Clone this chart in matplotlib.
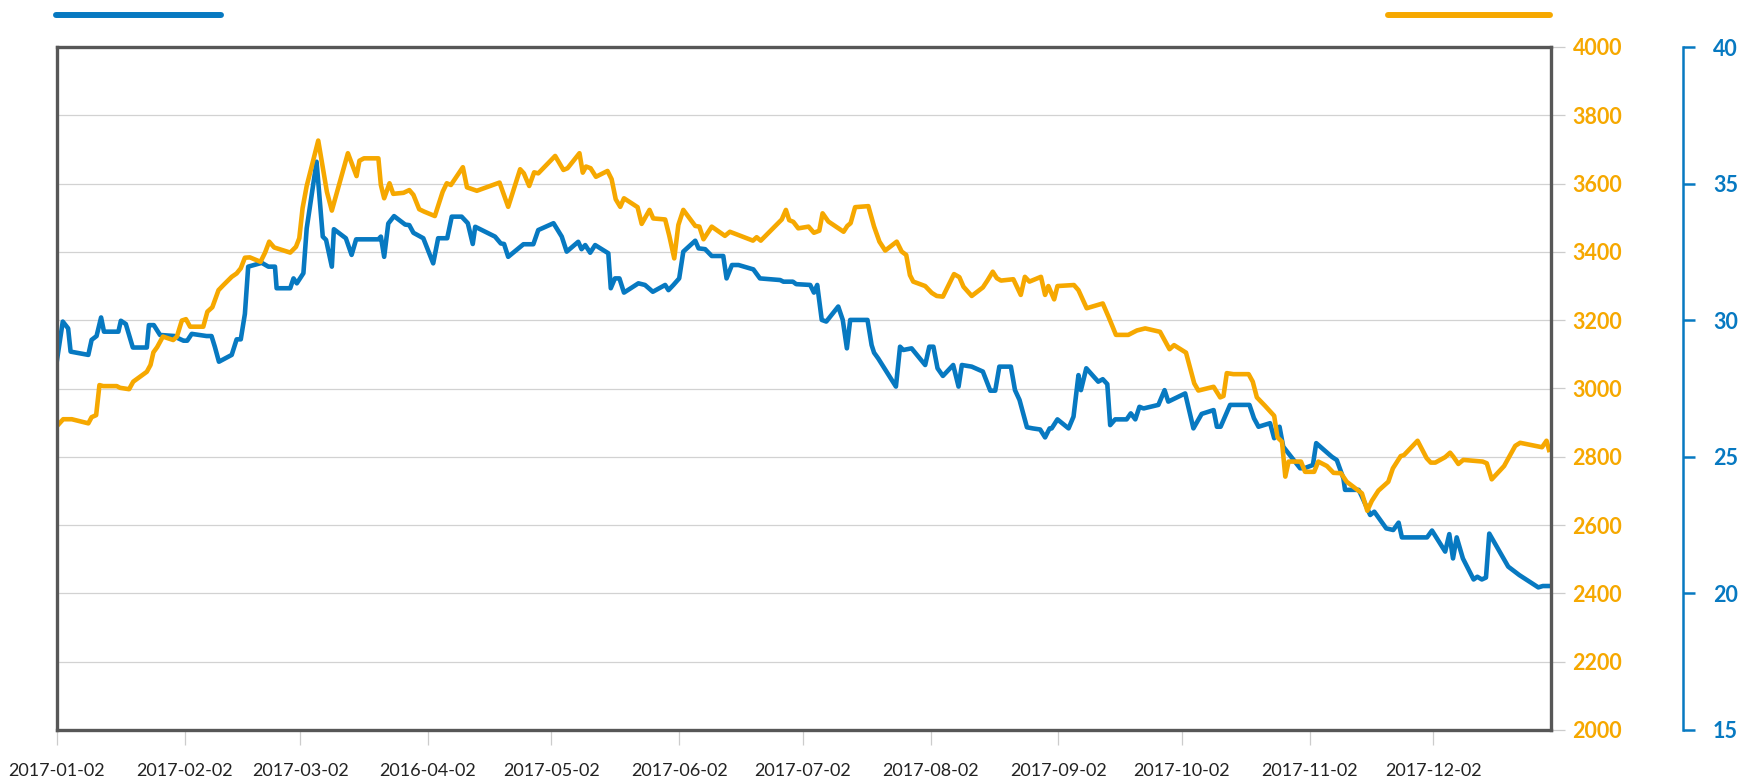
import matplotlib
matplotlib.use("Agg")
import matplotlib.pyplot as plt
from matplotlib.lines import Line2D
from matplotlib.ticker import MultipleLocator
import pandas as pd

# x positions are days counted from 2017-01-02
blue_day = [0, 1.4, 2.7, 3.3, 7.6, 8.4, 9.6, 10.7, 11.4, 14.9,
            15.5, 16.7, 18.4, 21.8, 22.3, 23.5, 25.0, 28.6, 29.4, 30.7,
            31.6, 32.7, 36.3, 37.5, 38.3, 39.3, 42.4, 43.6, 44.6, 45.6,
            46.4, 49.7, 51.3, 52.9, 53.3, 56.6, 57.4, 58.2, 59.8, 60.6,
            63.0, 64.5, 65.3, 66.7, 67.2, 70.1, 71.5, 72.6, 78.0, 78.6,
            79.4, 80.4, 81.8, 84.5, 85.5, 86.5, 88.5, 88.9, 91.3, 92.5,
            94.7, 95.8, 98.2, 99.7, 100.9, 101.5, 106.3, 107.7, 108.5, 109.5,
            113.2, 115.6, 116.8, 120.5, 122.5, 123.7, 126.5, 127.3, 128.2, 129.4,
            130.6, 133.8, 134.4, 135.4, 136.5, 137.6, 141.1, 142.7, 144.6, 147.6,
            148.4, 149.6, 151.0, 152.0, 154.9, 155.7, 157.3, 158.9, 161.7, 162.5,
            163.8, 165.4, 169.0, 170.6, 175.5, 176.3, 178.6, 179.4, 182.8, 183.7,
            184.5, 185.6, 186.7, 189.6, 190.7, 191.7, 192.5, 196.7, 197.7, 198.3,
            199.3, 203.6, 204.6, 205.4, 207.4, 210.7, 211.7, 212.7, 213.7, 215.0,
            217.5, 218.8, 219.6, 222.0, 224.7, 226.5, 227.7, 228.7, 231.5, 232.5,
            233.6, 235.4, 236.8, 238.6, 239.8, 240.9, 241.4, 242.8, 245.5, 246.7,
            247.9, 248.5, 249.8, 252.7, 253.8, 254.9, 255.6, 256.8, 259.6, 260.6,
            261.7, 262.7, 263.7, 267.3, 268.8, 269.7, 273.8, 275.8, 277.8, 280.7,
            281.5, 282.4, 284.7, 289.4, 290.5, 291.6, 294.4, 295.4, 296.7, 297.6,
            301.7, 302.7, 304.8, 305.6, 309.4, 310.6, 312.2, 312.6, 315.9, 316.7,
            318.7, 319.7, 322.6, 324.3, 325.6, 326.4, 332.5, 333.7, 336.9, 337.9,
            338.8, 339.7, 341.2, 343.8, 344.7, 345.8, 346.8, 347.6, 350.6, 352.2,
            354.9, 359.5, 360.6, 361.9]
blue_val = [28.54, 29.95, 29.7, 28.85, 28.73, 29.28, 29.42, 30.1, 29.58, 29.58,
            29.98, 29.86, 29.0, 29.0, 29.82, 29.82, 29.46, 29.42, 29.34, 29.25,
            29.25, 29.5, 29.42, 29.42, 29.03, 28.48, 28.73, 29.3, 29.3, 30.23,
            31.96, 32.1, 31.96, 31.96, 31.17, 31.17, 31.53, 31.35, 31.72, 33.36,
            35.8, 33.06, 32.94, 31.96, 33.33, 33.0, 32.39, 32.96, 32.96, 33.06,
            32.32, 33.54, 33.81, 33.5, 33.48, 33.2, 33.03, 33.0, 32.08, 33.0,
            33.0, 33.79, 33.79, 33.55, 32.79, 33.42, 33.06, 32.81, 32.79, 32.32,
            32.78, 32.78, 33.3, 33.55, 33.06, 32.51, 32.87, 32.6, 32.75, 32.47,
            32.75, 32.45, 31.17, 31.53, 31.53, 31.01, 31.35, 31.29, 31.04, 31.29,
            31.1, 31.29, 31.53, 32.51, 32.91, 32.63, 32.6, 32.35, 32.35, 31.53,
            32.02, 32.02, 31.86, 31.53, 31.47, 31.41, 31.41, 31.32, 31.29, 31.01,
            31.29, 30.01, 29.95, 30.5, 30.01, 28.97, 30.01, 30.01, 29.09, 28.81,
            28.6, 27.57, 29.03, 28.91, 28.97, 28.36, 29.03, 29.03, 28.24, 27.96,
            28.36, 27.57, 28.36, 28.3, 28.12, 27.42, 27.42, 28.3, 28.3, 27.44,
            27.08, 26.08, 26.04, 26.0, 25.71, 26.04, 26.04, 26.37, 26.04, 26.47,
            27.99, 27.44, 28.24, 27.75, 27.84, 27.66, 26.16, 26.37, 26.37, 26.59,
            26.37, 26.83, 26.77, 26.9, 27.44, 27.02, 27.32, 26.04, 26.57, 26.71,
            26.1, 26.1, 26.9, 26.9, 26.41, 26.1, 26.23, 25.68, 26.1, 25.37,
            24.58, 24.58, 24.7, 25.5, 25.0, 24.88, 24.21, 23.79, 23.79, 23.54,
            22.87, 22.99, 22.38, 22.32, 22.59, 22.05, 22.05, 22.3, 21.53, 22.17,
            21.28, 22.05, 21.28, 20.51, 20.61, 20.51, 20.58, 22.19, 21.4, 20.98,
            20.67, 20.22, 20.27, 20.27]

orange_day = [0, 1.5, 3.6, 7.6, 8.4, 9.5, 10.3, 11.2, 14.5, 15.3,
              17.5, 18.5, 21.8, 22.7, 23.4, 24.3, 25.7, 28.2, 29.1, 30.3,
              31.3, 32.3, 35.5, 36.5, 37.7, 39.2, 40.4, 42.4, 43.6, 44.6,
              45.6, 46.8, 49.4, 50.5, 51.5, 52.7, 56.6, 58.0, 58.8, 59.6,
              60.6, 63.4, 65.5, 66.7, 70.6, 72.7, 73.4, 74.5, 78.0, 78.6,
              79.4, 80.7, 81.6, 84.1, 85.5, 86.5, 87.9, 89.1, 91.7, 93.6,
              94.6, 95.6, 98.5, 99.5, 101.9, 107.4, 109.5, 112.4, 113.3, 114.6,
              115.8, 116.8, 120.9, 122.9, 123.9, 126.8, 127.6, 128.4, 129.5, 130.8,
              133.6, 134.6, 135.6, 136.7, 137.6, 140.9, 141.9, 143.8, 144.7, 147.6,
              148.6, 149.8, 150.8, 152.0, 154.9, 155.9, 156.9, 158.9, 162.1, 163.3,
              168.9, 169.8, 170.8, 175.9, 176.9, 177.7, 178.7, 179.9, 182.4, 183.7,
              185.0, 185.8, 187.2, 190.9, 191.8, 192.6, 193.7, 196.9, 198.3, 199.6,
              201.0, 203.8, 205.0, 206.1, 207.0, 207.8, 210.7, 212.3, 213.5, 215.0,
              217.7, 219.0, 220.0, 222.0, 224.7, 225.8, 227.1, 228.1, 229.1, 232.1,
              233.9, 234.9, 236.0, 238.8, 239.8, 240.6, 242.0, 242.8, 246.8, 247.9,
              249.9, 253.8, 255.2, 257.0, 260.0, 262.1, 264.1, 267.7, 270.0, 271.1,
              274.0, 276.0, 277.0, 280.7, 282.3, 283.1, 283.9, 285.5, 289.2, 290.2,
              291.2, 293.2, 295.4, 296.2, 297.3, 298.1, 298.9, 301.9, 302.9, 305.1,
              306.1, 308.2, 309.8, 311.6, 313.0, 316.7, 318.0, 319.1, 320.7, 323.1,
              324.2, 326.1, 326.9, 330.2, 332.4, 333.4, 334.5, 336.9, 338.1, 338.9,
              340.1, 341.3, 346.0, 347.0, 348.2, 351.2, 353.9, 355.1, 360.4, 361.5,
              362.1]
orange_val = [2890, 2910, 2910, 2898, 2916, 2922, 3010, 3007, 3007, 3002,
              2998, 3020, 3049, 3069, 3106, 3121, 3152, 3142, 3152, 3199,
              3203, 3181, 3181, 3225, 3238, 3288, 3303, 3327, 3337, 3352,
              3383, 3384, 3371, 3398, 3430, 3413, 3398, 3415, 3440, 3528,
              3593, 3726, 3576, 3521, 3689, 3622, 3667, 3674, 3674, 3596,
              3557, 3601, 3570, 3573, 3581, 3567, 3525, 3518, 3505, 3576,
              3601, 3596, 3648, 3589, 3579, 3603, 3532, 3642, 3630, 3593,
              3633, 3630, 3681, 3640, 3645, 3689, 3632, 3650, 3645, 3620,
              3637, 3613, 3554, 3532, 3557, 3531, 3482, 3523, 3498, 3495,
              3447, 3381, 3479, 3523, 3476, 3474, 3437, 3474, 3447, 3459,
              3433, 3443, 3433, 3495, 3523, 3493, 3488, 3469, 3474, 3456,
              3462, 3513, 3489, 3459, 3476, 3484, 3531, 3534, 3474, 3430,
              3404, 3430, 3401, 3391, 3332, 3313, 3300, 3280, 3271, 3269,
              3335, 3326, 3298, 3271, 3296, 3316, 3342, 3323, 3316, 3320,
              3274, 3327, 3313, 3327, 3274, 3300, 3261, 3300, 3303, 3288,
              3235, 3249, 3210, 3157, 3157, 3170, 3176, 3166, 3115, 3127,
              3105, 3015, 2994, 3005, 2974, 2978, 3045, 3042, 3042, 3020,
              2974, 2949, 2920, 2857, 2844, 2742, 2786, 2786, 2756, 2756,
              2786, 2773, 2753, 2752, 2727, 2693, 2642, 2671, 2701, 2727,
              2766, 2802, 2805, 2847, 2796, 2783, 2783, 2799, 2812, 2800,
              2779, 2791, 2786, 2781, 2734, 2773, 2832, 2841, 2828, 2847,
              2820]

tick_dates = ["2017-01-02", "2017-02-02", "2017-03-02", "2017-04-02", "2017-05-02",
              "2017-06-02", "2017-07-02", "2017-08-02", "2017-09-02", "2017-10-02",
              "2017-11-02", "2017-12-02"]
tick_labels = ["2017-01-02", "2017-02-02", "2017-03-02", "2016-04-02", "2017-05-02",
               "2017-06-02", "2017-07-02", "2017-08-02", "2017-09-02", "2017-10-02",
               "2017-11-02", "2017-12-02"]
orange_ticks = [2000, 2200, 2400, 2600, 2800, 3000, 3200, 3400, 3600, 3800, 4000]
blue_ticks = [15, 20, 25, 30, 35, 40]

BLUE = "#0779c1"
ORANGE = "#f6a800"
GRID = "#d2d2d2"

start = pd.Timestamp("2017-01-02")
blue_dates = start + pd.to_timedelta(blue_day, unit="D")
orange_dates = start + pd.to_timedelta(orange_day, unit="D")

fig = plt.figure(figsize=(17.61, 7.83), dpi=100)
ax = fig.add_axes([57 / 1761, 53 / 783, 1494 / 1761, 683 / 783])
axo = ax.twinx()

# blue series (host axis, drawn below)
ax.plot(blue_dates, blue_val, color=BLUE, lw=3.3)
ax.set_ylim(15, 40)
ax.set_xlim(start, pd.Timestamp("2017-12-30 14:00"))
for s in ["left", "top", "bottom"]:
    ax.spines[s].set_visible(False)
ax.spines["right"].set_position(("axes", 1.0884))
ax.spines["right"].set_color(BLUE)
ax.spines["right"].set_linewidth(1.8)
ax.yaxis.tick_right()
ax.set_yticks(blue_ticks)
ax.yaxis.set_minor_locator(MultipleLocator(2.5))
ax.tick_params(axis="y", which="major", color=BLUE, labelcolor=BLUE, length=8.6,
               width=1.8, pad=13)
ax.tick_params(axis="y", which="minor", length=0)
ax.grid(axis="y", which="both", color=GRID, lw=0.9)
for lab in ax.get_yticklabels():
    lab.set_fontfamily("Lato")
    lab.set_fontweight("bold")
    lab.set_fontsize(15.5)

ax.set_xticks(pd.to_datetime(tick_dates))
ax.set_xticklabels(tick_labels, fontfamily="Lato", fontsize=13)
ax.tick_params(axis="x", color="#cccccc", labelcolor="#222222", length=10.8, width=0.9, pad=13)

# orange series (twin axis, drawn on top)
axo.plot(orange_dates, orange_val, color=ORANGE, lw=3.3)
axo.set_ylim(2000, 4000)
for s in axo.spines.values():
    s.set_color("#575757")
    s.set_linewidth(2.4)
axo.set_yticks(orange_ticks)
axo.tick_params(axis="y", color="#cccccc", labelcolor=ORANGE, length=10, width=0.9, pad=5.5)
for lab in axo.get_yticklabels():
    lab.set_fontfamily("Lato")
    lab.set_fontweight("bold")
    lab.set_fontsize(15.5)

# legend bars at the top
fig.add_artist(Line2D([56 / 1761, 221 / 1761], [1 - 15 / 783] * 2, transform=fig.transFigure,
                      color=BLUE, lw=4.3, solid_capstyle="round"))
fig.add_artist(Line2D([1388 / 1761, 1550 / 1761], [1 - 15 / 783] * 2, transform=fig.transFigure,
                      color=ORANGE, lw=4.3, solid_capstyle="round"))

fig.savefig("out.png", dpi=100)
